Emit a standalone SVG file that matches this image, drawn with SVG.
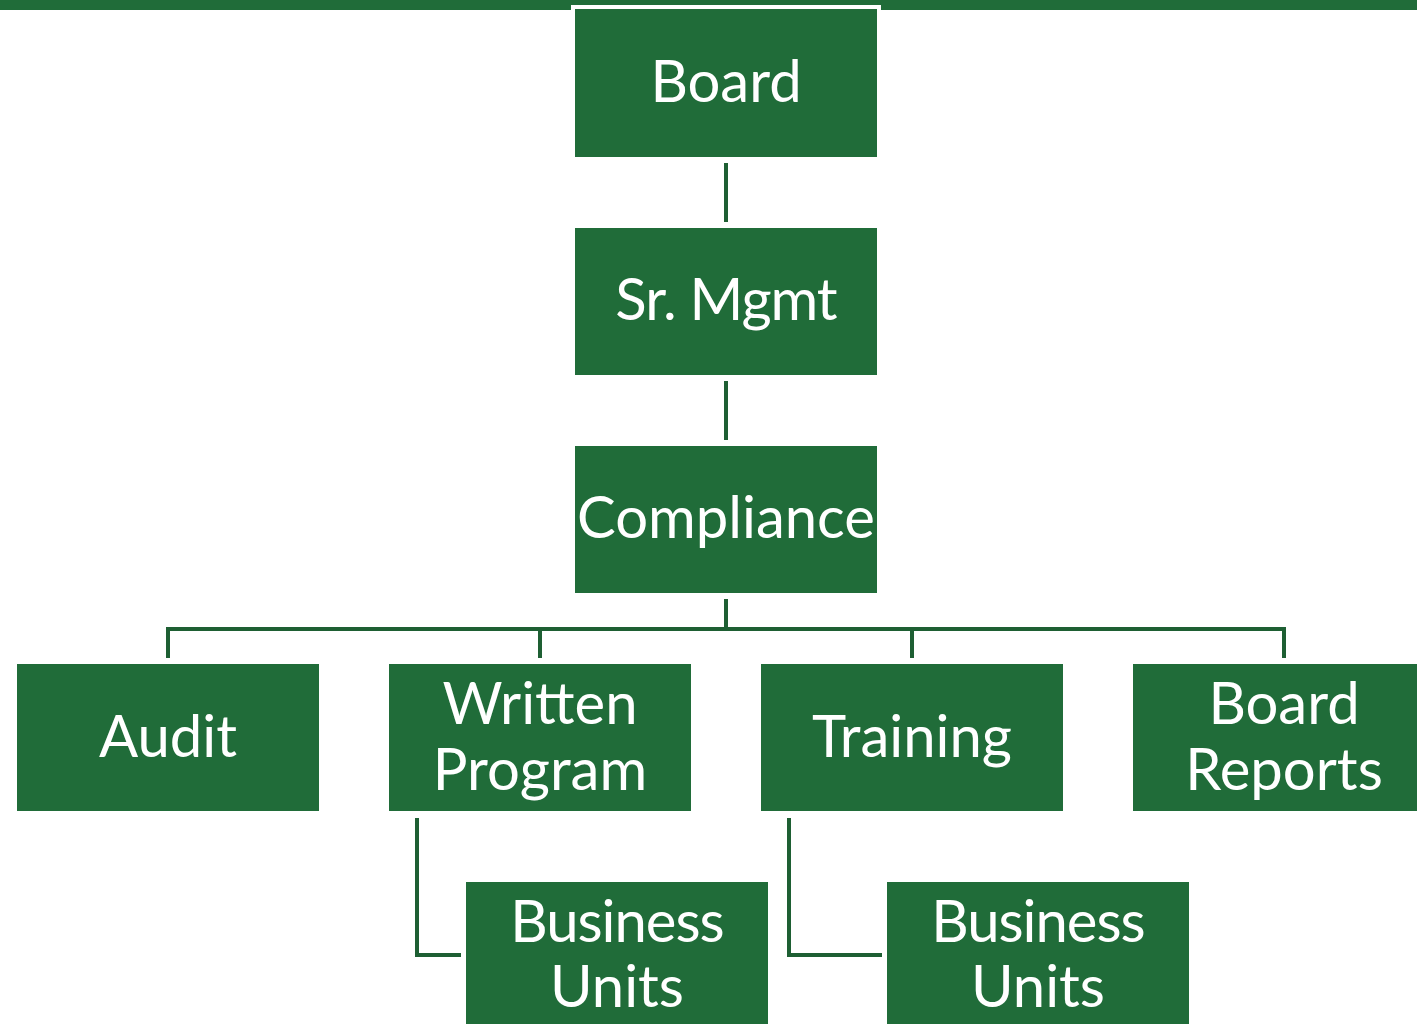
<svg xmlns="http://www.w3.org/2000/svg" width="1417" height="1024" viewBox="0 0 1417 1024">
  <style>
    .box { fill: #206c39; stroke: #ffffff; stroke-width: 4; }
    .lbl { fill: #ffffff; font-family: Lato, "Open Sans", "Liberation Sans", sans-serif; font-size: 58px; text-anchor: middle; }
    .tight { letter-spacing: -1px; }
    .wire { fill: none; stroke: #1e5f33; stroke-width: 4; }
  </style>
  <rect width="1417" height="1024" fill="#ffffff"/>
  <!-- header band -->
  <rect x="0" y="0" width="1417" height="10" fill="#206c39"/>

  <g id="connectors">
    <path class="wire" d="M726 163 V222"/>
    <path class="wire" d="M726 381 V440"/>
    <path class="wire" d="M726 599 V629"/>
    <path class="wire" d="M168 658 V629 H1284 V658"/>
    <path class="wire" d="M540 629 V658"/>
    <path class="wire" d="M912 629 V658"/>
    <path class="wire" d="M417 818 V955 H461"/>
    <path class="wire" d="M789 818 V955 H882"/>
  </g>

  <!-- boxes: 302 x 147 fill, white 2px rim outside -->
  <g id="board">
    <rect class="box" x="573" y="7" width="306" height="152"/>
    <text class="lbl" x="726" y="102">Board</text>
  </g>
  <g id="sr-mgmt">
    <rect class="box" x="573" y="226" width="306" height="151"/>
    <text class="lbl tight" x="726" y="320">Sr. Mgmt</text>
  </g>
  <g id="compliance">
    <rect class="box" x="573" y="444" width="306" height="151"/>
    <text class="lbl" x="726" y="538">Compliance</text>
  </g>
  <g id="audit">
    <rect class="box" x="15" y="662" width="306" height="151"/>
    <text class="lbl" x="168" y="757">Audit</text>
  </g>
  <g id="written-program">
    <rect class="box" x="387" y="662" width="306" height="151"/>
    <text class="lbl" x="540" y="724">Written</text>
    <text class="lbl" x="540" y="790">Program</text>
  </g>
  <g id="training">
    <rect class="box" x="759" y="662" width="306" height="151"/>
    <text class="lbl" x="912" y="757">Training</text>
  </g>
  <g id="board-reports">
    <rect class="box" x="1131" y="662" width="306" height="151"/>
    <text class="lbl" x="1284" y="724">Board</text>
    <text class="lbl" x="1284" y="790">Reports</text>
  </g>
  <g id="business-units-1">
    <rect class="box" x="464" y="880" width="306" height="160"/>
    <text class="lbl tight" x="617" y="942">Business</text>
    <text class="lbl" x="617" y="1007">Units</text>
  </g>
  <g id="business-units-2">
    <rect class="box" x="885" y="880" width="306" height="160"/>
    <text class="lbl tight" x="1038" y="942">Business</text>
    <text class="lbl" x="1038" y="1007">Units</text>
  </g>
</svg>
